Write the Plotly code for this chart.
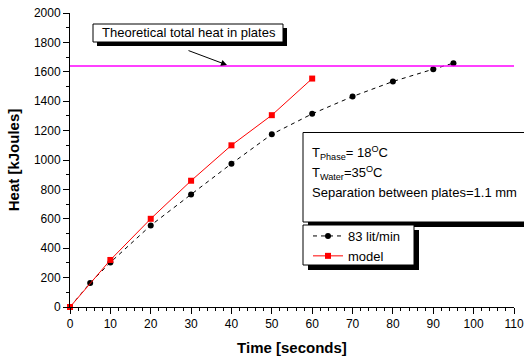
import plotly.graph_objects as go

# ---- data ----
time_meas = [0, 5, 10, 20, 30, 40, 50, 60, 70, 80, 90, 95]
heat_meas = [0, 164, 303, 555, 766, 975, 1175, 1314, 1432, 1534, 1618, 1659]
time_model = [0, 10, 20, 30, 40, 50, 60]
heat_model = [0, 320, 600, 859, 1100, 1305, 1554]
theoretical_heat = 1640
x_ticks = list(range(0, 111, 10))
y_ticks = list(range(0, 2001, 200))

# ---- layout geometry (pixels) ----
W, H = 524, 358
L, R, T, B = 70, 10, 13, 51
PW, PH = W - L - R, H - T - B


def px(x):
    return (x - L) / PW


def py(y):
    return (H - B - y) / PH


FONT = "Arial, Liberation Sans, sans-serif"

fig = go.Figure()
fig.add_trace(go.Scatter(
    x=time_meas, y=heat_meas, name="83 lit/min", mode="lines+markers",
    line=dict(color="black", width=1, dash="4px,4px"),
    marker=dict(symbol="circle", size=6, color="black"),
    cliponaxis=False,
))
fig.add_trace(go.Scatter(
    x=time_model, y=heat_model, name="model", mode="lines+markers",
    line=dict(color="#ff0000", width=1),
    marker=dict(symbol="square", size=6, color="#ff0000"),
    cliponaxis=False,
))

shapes = []
# theoretical heat line
shapes.append(dict(type="line", xref="paper", yref="y", x0=0, x1=1,
                   y0=theoretical_heat, y1=theoretical_heat,
                   line=dict(color="#ff00ff", width=1.5)))


def box(x0, y0, x1, y1, off, layer="above"):
    shapes.append(dict(type="rect", xref="paper", yref="paper",
                       x0=px(x0 + off), x1=px(x1 + off), y0=py(y1 + off), y1=py(y0 + off),
                       fillcolor="black", line=dict(width=0), layer=layer))
    shapes.append(dict(type="rect", xref="paper", yref="paper",
                       x0=px(x0), x1=px(x1), y0=py(y1), y1=py(y0),
                       fillcolor="white", line=dict(color="black", width=1), layer=layer))


box(93, 24, 283, 42, 4)
box(303, 132.5, 540, 222, 5)
box(303, 225, 414, 265, 5)

annotations = [
    dict(xref="paper", yref="paper", x=px(100), y=py(33), xanchor="left", yanchor="middle",
         text="Theoretical total heat in plates", showarrow=False,
         font=dict(family=FONT, size=13, color="black")),
    dict(xref="paper", yref="paper", x=px(227), y=py(65), ax=-40, ay=-15, axref="pixel", ayref="pixel",
         text="", showarrow=True, arrowhead=2, arrowsize=1.2, arrowwidth=1, arrowcolor="black"),
    dict(xref="paper", yref="paper", x=px(310), y=py(153), xanchor="left", yanchor="middle",
         text="T<sub>Phase</sub>= 18<sup>O</sup>C", showarrow=False,
         font=dict(family=FONT, size=13, color="black")),
    dict(xref="paper", yref="paper", x=px(310), y=py(173), xanchor="left", yanchor="middle",
         text="T<sub>Water</sub>=35<sup>O</sup>C", showarrow=False,
         font=dict(family=FONT, size=13, color="black")),
    dict(xref="paper", yref="paper", x=px(310), y=py(192), xanchor="left", yanchor="middle",
         text="Separation between plates=1.1 mm", showarrow=False,
         font=dict(family=FONT, size=13, color="black")),
]

fig.update_layout(
    width=W, height=H, margin=dict(l=L, r=R, t=T, b=B, pad=0, autoexpand=False),
    paper_bgcolor="white", plot_bgcolor="white",
    font=dict(family=FONT, size=12, color="black"),
    shapes=shapes, annotations=annotations,
    showlegend=True,
    legend=dict(x=px(308), y=py(221), xanchor="left", yanchor="top",
                bgcolor="rgba(0,0,0,0)", borderwidth=0,
                font=dict(family=FONT, size=13, color="black"),
                tracegroupgap=0, itemwidth=30),
    xaxis=dict(range=[0, 110], tickvals=x_ticks, showline=True, linecolor="black", linewidth=1,
               ticks="outside", ticklen=6, tickcolor="black", showgrid=False, zeroline=False,
               automargin=False,
               minor=dict(dtick=2, ticks="outside", ticklen=3, tickcolor="black"),
               title=dict(text="<b>Time [seconds]</b>", font=dict(size=15), standoff=12),
               tickfont=dict(size=12)),
    yaxis=dict(range=[0, 2000], tickvals=y_ticks, showline=True, linecolor="black", linewidth=1,
               ticks="outside", ticklen=6, tickcolor="black", showgrid=False, zeroline=False,
               automargin=False,
               minor=dict(dtick=100, ticks="outside", ticklen=3, tickcolor="black"),
               title=dict(text="<b>Heat [kJoules]</b>", font=dict(size=15), standoff=10),
               tickfont=dict(size=12)),
)

fig.write_html("out.html")
